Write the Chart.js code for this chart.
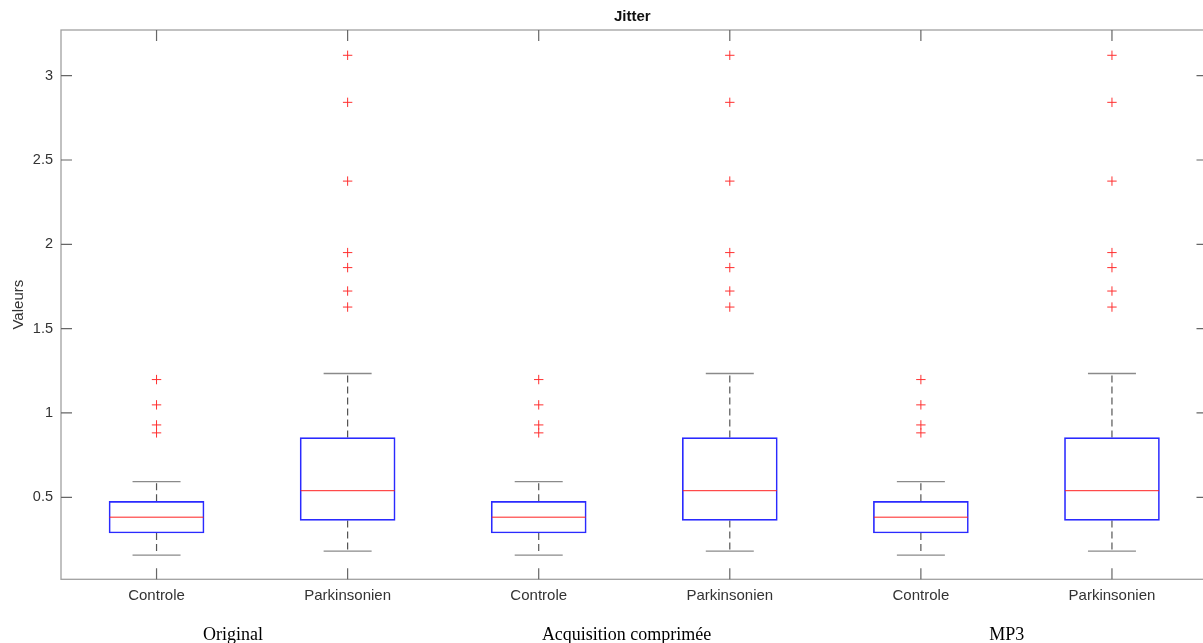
<!DOCTYPE html>
<html>
<head>
<meta charset="utf-8">
<script src="https://cdn.jsdelivr.net/npm/chart.js@4.4.1/dist/chart.umd.min.js"></script>
<style>
  html, body { margin: 0; padding: 0; background: #fff; overflow: hidden; }
  #wrap { position: absolute; left: 0; top: 0; width: 1215px; height: 643px; }
</style>
</head>
<body>
<div id="wrap"><canvas id="myChart"></canvas></div>
<script>
// categories and group names
const categories = ['Controle', 'Parkinsonien', 'Controle', 'Parkinsonien', 'Controle', 'Parkinsonien'];
const groups = ['Original', 'Acquisition comprimée', 'MP3'];

// box statistics
const whiskerLow  = [0.157, 0.181, 0.157, 0.181, 0.157, 0.181];
const q1          = [0.288, 0.363, 0.288, 0.363, 0.288, 0.363];
const median      = [0.382, 0.539, 0.382, 0.539, 0.382, 0.539];
const q3          = [0.476, 0.854, 0.476, 0.854, 0.476, 0.854];
const whiskerHigh = [0.593, 1.234, 0.593, 1.234, 0.593, 1.234];

// outliers (red crosses)
const outControle = [0.882, 0.929, 1.048, 1.198];
const outParkinson = [1.628, 1.723, 1.862, 1.951, 2.375, 2.842, 3.121];
const outliers = [outControle, outParkinson, outControle, outParkinson, outControle, outParkinson];

// axis ticks
const yTicks = [0.5, 1, 1.5, 2, 2.5, 3];

document.addEventListener('DOMContentLoaded', function() {
  const canvas = document.getElementById('myChart');
  const pos = categories.map((c, i) => i + 1);
  const font = '"Liberation Sans", Arial, Helvetica, sans-serif';

  // whisker segments, separated by gaps
  const whiskers = [];
  pos.forEach((x, i) => {
    whiskers.push({x: x, y: q3[i]}, {x: x, y: whiskerHigh[i]}, {x: x, y: null});
    whiskers.push({x: x, y: q1[i]}, {x: x, y: whiskerLow[i]}, {x: x, y: null});
  });

  const caps = [];
  pos.forEach((x, i) => { caps.push({x: x, y: whiskerLow[i]}, {x: x, y: whiskerHigh[i]}); });

  const outPts = [];
  pos.forEach((x, i) => outliers[i].forEach(v => outPts.push({x: x, y: v})));

  // frame, inward ticks, title and group labels
  const matlabFrame = {
    id: 'matlabFrame',
    afterDraw(chart) {
      const {ctx, chartArea: a, scales: {x, y}} = chart;
      ctx.save();
      ctx.strokeStyle = '#a0a0a0';
      ctx.lineWidth = 1.3;
      ctx.strokeRect(a.left, a.top, a.right - a.left, a.bottom - a.top);

      ctx.strokeStyle = '#666';
      ctx.lineWidth = 1.2;
      ctx.beginPath();
      x.ticks.forEach(t => {
        const px = x.getPixelForValue(t.value);
        ctx.moveTo(px, a.bottom); ctx.lineTo(px, a.bottom - 11);
        ctx.moveTo(px, a.top); ctx.lineTo(px, a.top + 11);
      });
      y.ticks.forEach(t => {
        const py = y.getPixelForValue(t.value);
        ctx.moveTo(a.left, py); ctx.lineTo(a.left + 11, py);
        ctx.moveTo(a.right, py); ctx.lineTo(a.right - 11, py);
      });
      ctx.stroke();

      ctx.fillStyle = '#111';
      ctx.font = 'bold 15px ' + font;
      ctx.textAlign = 'center';
      ctx.textBaseline = 'middle';
      ctx.fillText('Jitter', (a.left + a.right) / 2 - 2, 17);

      // group captions under each pair
      const groupAt = [1.4, 3.46, 5.45];
      ctx.fillStyle = '#000';
      ctx.font = '18px "Liberation Serif", "Times New Roman", serif';
      ctx.textBaseline = 'alphabetic';
      groups.forEach((g, i) => ctx.fillText(g, x.getPixelForValue(groupAt[i]), 640));
      ctx.restore();
    }
  };

  new Chart(canvas, {
    type: 'scatter',
    data: {
      datasets: [
        {
          type: 'bar',
          data: pos.map((x, i) => ({x: x, y: [q1[i], q3[i]]})),
          backgroundColor: 'rgba(0,0,0,0)',
          borderColor: '#2a2aff',
          borderWidth: 1,
          borderSkipped: false,
          barThickness: 95,
          order: 4
        },
        {
          type: 'line',
          data: whiskers,
          borderColor: '#555',
          borderWidth: 1.2,
          borderDash: [7, 4],
          pointRadius: 0,
          spanGaps: false,
          fill: false,
          order: 5
        },
        {
          data: caps,
          pointStyle: 'line',
          pointRadius: 24,
          borderColor: '#8a8a8a',
          borderWidth: 1.3,
          order: 3
        },
        {
          data: pos.map((x, i) => ({x: x, y: median[i]})),
          pointStyle: 'line',
          pointRadius: 47,
          borderColor: '#ff2020',
          borderWidth: 1,
          order: 2
        },
        {
          data: outPts,
          pointStyle: 'cross',
          pointRadius: 4.7,
          borderColor: '#ff3030',
          borderWidth: 1,
          order: 1
        }
      ]
    },
    options: {
      responsive: true,
      maintainAspectRatio: false,
      animation: false,
      events: [],
      layout: { autoPadding: false, padding: { left: 0, right: 7.5, top: 30, bottom: 0 } },
      plugins: {
        legend: { display: false },
        tooltip: { enabled: false }
      },
      scales: {
        x: {
          type: 'linear',
          min: 0.5,
          max: 6.5,
          offset: false,
          grid: { display: false, drawTicks: false, offset: false },
          border: { display: false },
          afterBuildTicks: s => { s.ticks = pos.map(v => ({value: v})); },
          afterFit: s => { s.height = 63.7; s.paddingLeft = 0; s.paddingRight = 0; },
          ticks: {
            padding: 8,
            maxRotation: 0,
            color: '#333',
            font: { family: font, size: 15 },
            callback: v => categories[v - 1]
          }
        },
        y: {
          type: 'linear',
          min: 0.0136,
          max: 3.271,
          grid: { display: false, drawTicks: false },
          border: { display: false },
          afterBuildTicks: s => { s.ticks = yTicks.map(v => ({value: v})); },
          afterFit: s => { s.width = 61; s.paddingTop = 0; s.paddingBottom = 0; },
          title: {
            display: true,
            text: 'Valeurs',
            color: '#333',
            font: { family: font, size: 15 },
            padding: { top: 10, bottom: 0 }
          },
          ticks: {
            padding: 8,
            color: '#333',
            font: { family: font, size: 14.5 },
            callback: v => String(v)
          }
        }
      }
    },
    plugins: [matlabFrame]
  });
});
</script>
</body>
</html>
